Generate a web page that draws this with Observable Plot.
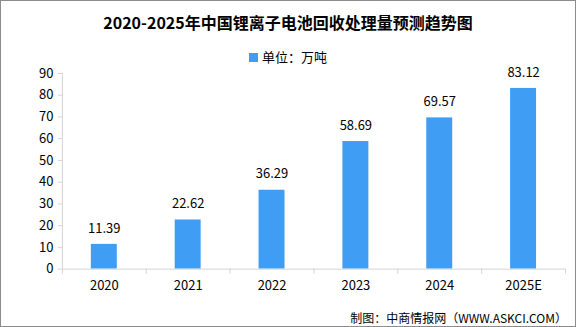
<!DOCTYPE html>
<html><head><meta charset="utf-8">
<script src="https://cdn.jsdelivr.net/npm/d3@7"></script>
<script src="https://cdn.jsdelivr.net/npm/@observablehq/plot@0.6"></script>
<style>
body{margin:0;background:#fff;}
#wrap{position:relative;width:576px;height:327px;box-sizing:border-box;border:1px solid #8c8c8c;font-family:"Noto Sans CJK SC",sans-serif;overflow:hidden;background:#fff;color:#000}
#title{position:absolute;top:10px;left:0;width:100%;text-align:center;font-size:16px;font-weight:bold;line-height:22px}
#legend{position:absolute;top:47px;left:0;width:100%;text-align:center;font-size:13px;line-height:18px}
#legend .sw{display:inline-block;width:9px;height:9px;background:#3f9ef4;margin-right:4px;vertical-align:middle;position:relative;top:-1px}
#chart{position:absolute;top:59px;left:-1px}
#source{position:absolute;right:8px;top:308px;font-size:12px;line-height:18px}
</style>
</head><body>
<div id="wrap">
  <div id="title">2020-2025年中国锂离子电池回收处理量预测趋势图</div>
  <div id="legend"><span class="sw"></span>单位：万吨</div>
  <div id="chart"></div>
  <div id="source">制图：中商情报网（WWW.ASKCI.COM）</div>
</div>
<script>
const categories = ["2020", "2021", "2022", "2023", "2024", "2025E"];
const values = [11.39, 22.62, 36.29, 58.69, 69.57, 83.12];
const yTicks = [0, 10, 20, 30, 40, 50, 60, 70, 80, 90];

const idx = categories.map((c, i) => i);
const axisColor = "#d4d4d4";
const barColor = "#3f9ef4";

const chart = Plot.plot({
  width: 576,
  height: 240,
  marginTop: 13,
  marginBottom: 31,
  marginLeft: 62,
  marginRight: 10,
  style: {fontFamily: '"Noto Sans CJK SC", sans-serif', fontSize: "13px", color: "#000", background: "transparent"},
  x: {domain: [0, categories.length]},
  y: {domain: [0, 90]},
  marks: [
    Plot.axisY({ticks: yTicks, tickSize: 4, tickPadding: 5, stroke: axisColor, fill: "#000", fontSize: 13}),
    Plot.axisX({ticks: d3.range(categories.length + 1), tickFormat: () => "", tickSize: 5, stroke: axisColor}),
    Plot.axisX({ticks: idx.map(i => i + 0.5), tickFormat: v => categories[Math.round(v - 0.5)], tickSize: 0, tickPadding: 12, fill: "#000", fontSize: 13}),
    Plot.rectY(idx, {x1: i => i, x2: i => i + 1, y1: 0, y2: i => values[i], fill: barColor, insetLeft: 29, insetRight: 29}),
    Plot.ruleY([0], {stroke: axisColor}),
    Plot.ruleX([0], {stroke: axisColor}),
    Plot.text(idx, {x: i => i + 0.5, y: i => values[i], text: i => values[i].toFixed(2), dy: -16, fontSize: 13, fill: "#000"})
  ]
});
document.getElementById("chart").appendChild(chart);
</script>
</body></html>
